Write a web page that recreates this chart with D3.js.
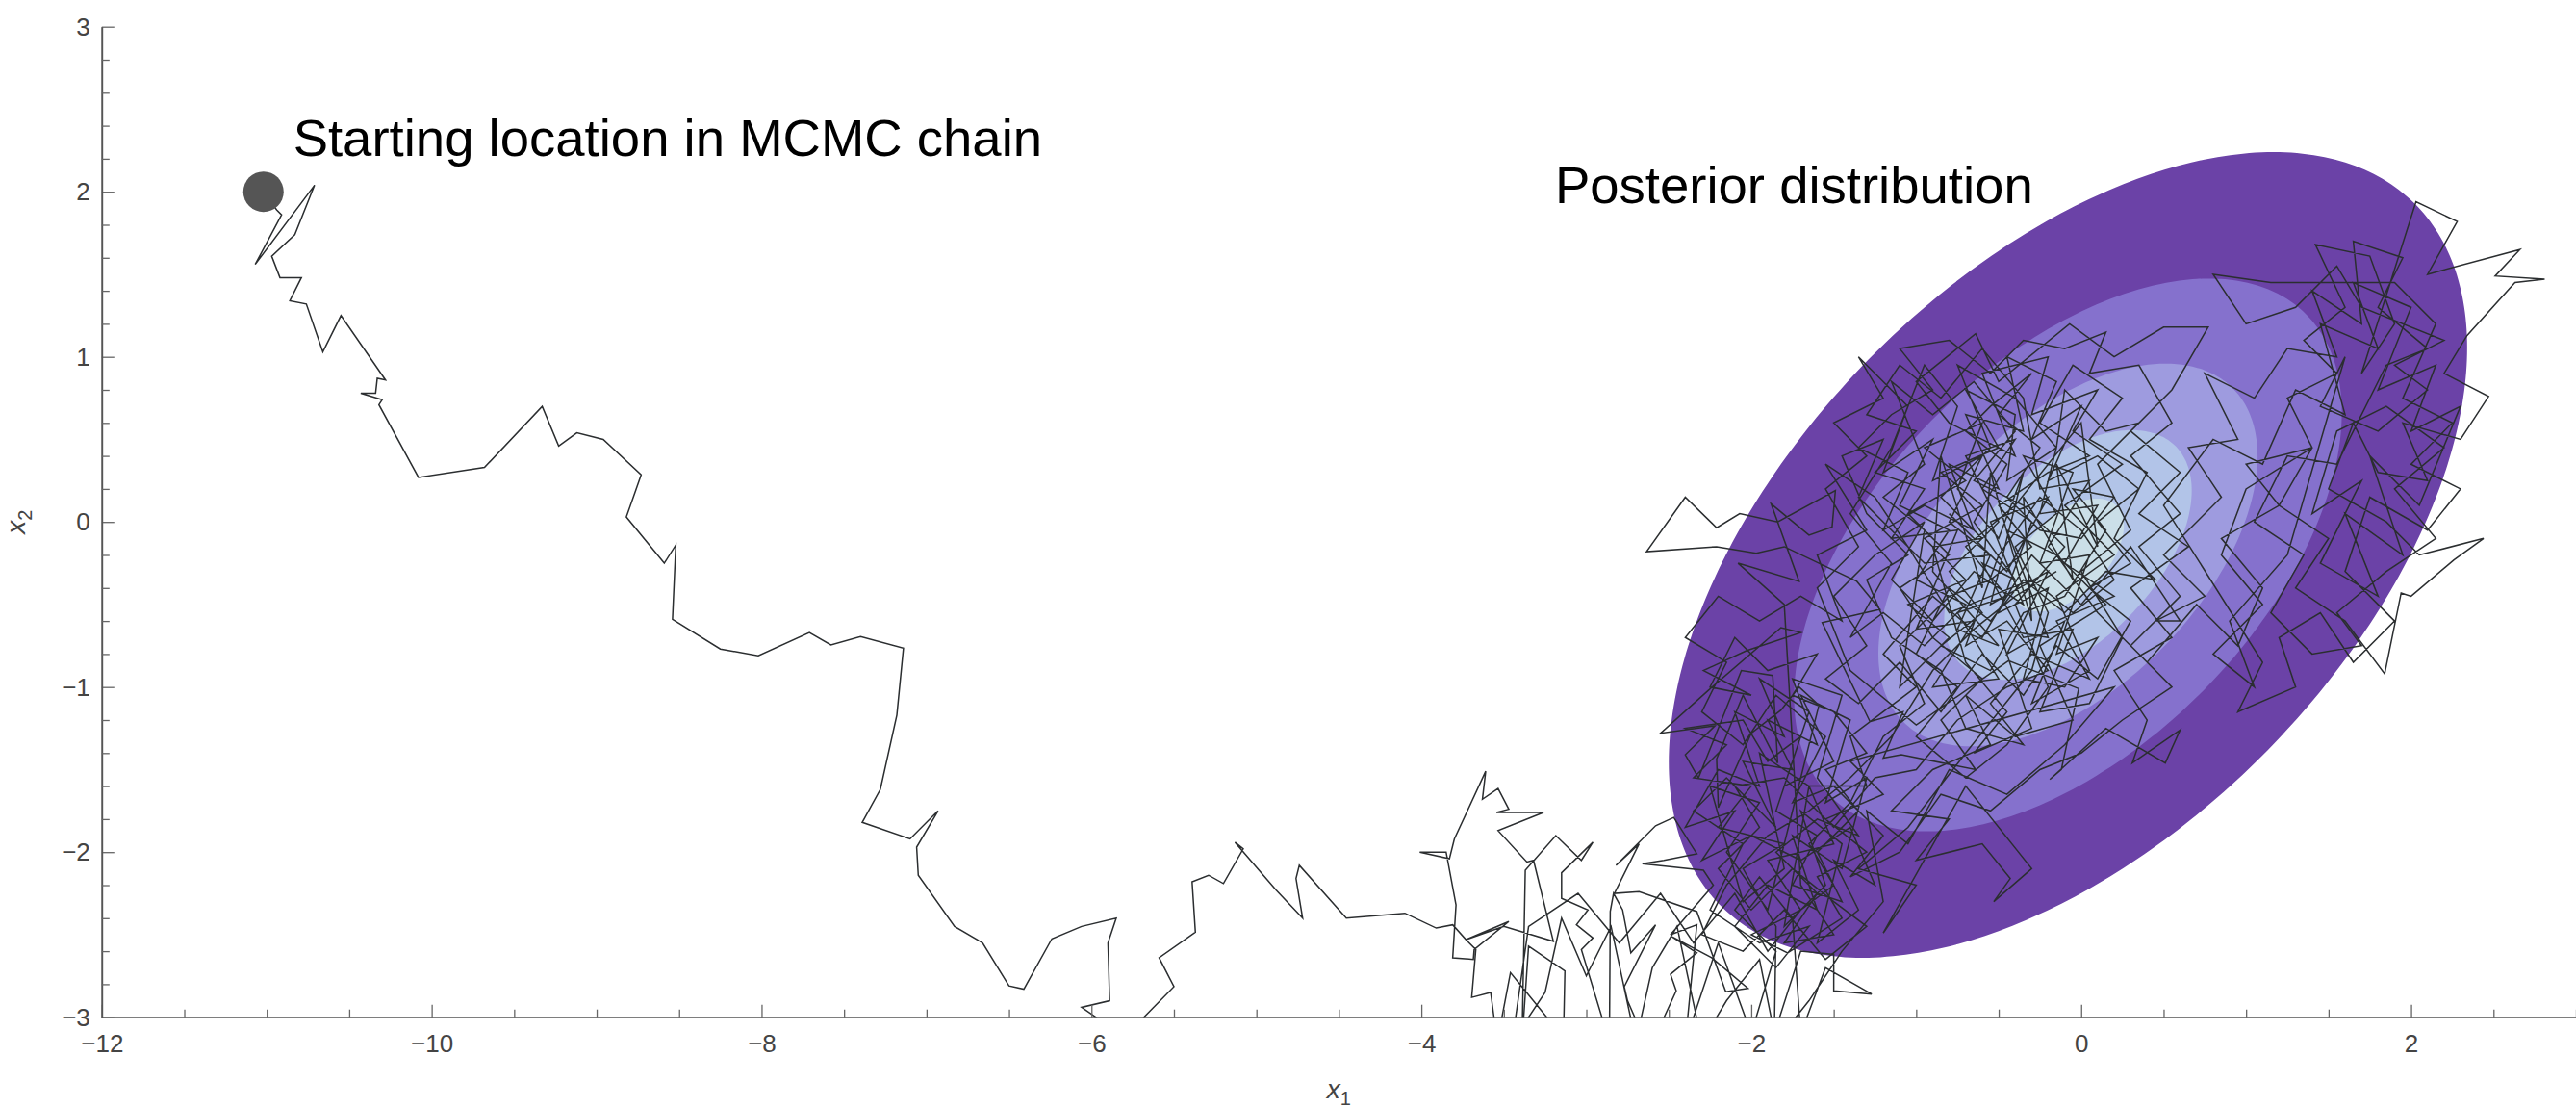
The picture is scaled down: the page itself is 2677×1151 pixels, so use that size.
<!DOCTYPE html>
<html><head><meta charset="utf-8">
<script src="https://cdn.jsdelivr.net/npm/d3@7"></script>
<style>html,body{margin:0;padding:0;background:#fff;} svg{display:block;}</style>
</head><body>
<svg id="chart" width="2677" height="1151"></svg>
<script>
// ---------- data ----------
const xDomain = [-12, 3];
const yDomain = [-3, 3];
const xTicksMajor = [-12, -10, -8, -6, -4, -2, 0, 2];
const xTicksMinor = [-11.5,-11,-10.5,-9.5,-9,-8.5,-7.5,-7,-6.5,-5.5,-5,-4.5,-3.5,-3,-2.5,-1.5,-1,-0.5,0.5,1,1.5,2.5,3];
const yTicksMajor = [-3, -2, -1, 0, 1, 2, 3];
const yTicksMinor = [-2.8,-2.6,-2.4,-2.2,-1.8,-1.6,-1.4,-1.2,-0.8,-0.6,-0.4,-0.2,0.2,0.4,0.6,0.8,1.2,1.4,1.6,1.8,2.2,2.4,2.6,2.8];

const posteriorCenter = [-0.08, -0.2];
const posteriorHalfExtent = [2.42, 2.44];
const posteriorCorr = 0.515;
const contourScales = [1, 0.686, 0.475, 0.31, 0.14];
const contourColors = ["#6b42a7", "#8571cd", "#9e9bdf", "#b2c4e8", "#cbdfe8"];

const startPoint = [-11.02, 2.0];
const annotations = [
  {text: "Starting location in MCMC chain", x: -10.84, y: 2.215},
  {text: "Posterior distribution", x: -3.19, y: 1.933}
];

const burnIn = [
[-11.02,2.00],[-10.94,1.89],[-10.91,1.86],[-11.07,1.56],[-10.71,2.04],[-10.83,1.74],[-10.97,1.61],[-10.92,1.48],[-10.79,1.48],[-10.86,1.34],[-10.76,1.32],[-10.66,1.03],[-10.55,1.25],[-10.28,0.86],[-10.33,0.87],[-10.34,0.78],[-10.43,0.78],[-10.30,0.74],[-10.32,0.71],[-10.08,0.27],[-9.68,0.33],[-9.33,0.70],[-9.23,0.46],[-9.12,0.54],[-8.96,0.50],[-8.73,0.285],[-8.82,0.03],[-8.59,-0.25],[-8.52,-0.14],[-8.54,-0.59],[-8.25,-0.77],[-8.02,-0.81],[-7.71,-0.67],[-7.58,-0.745],[-7.40,-0.695],[-7.14,-0.765],[-7.18,-1.17],[-7.28,-1.62],[-7.39,-1.82],[-7.10,-1.92],[-6.93,-1.75],[-7.06,-1.97],[-7.05,-2.14],[-6.83,-2.45],[-6.66,-2.55],[-6.50,-2.81],[-6.41,-2.83],[-6.24,-2.525],[-6.06,-2.45],[-5.85,-2.40],[-5.90,-2.55],[-5.89,-2.90],[-6.06,-2.94],[-5.80,-3.12],[-5.50,-2.815],[-5.59,-2.64],[-5.37,-2.485],[-5.39,-2.18],[-5.29,-2.14],[-5.20,-2.19],[-5.08,-1.98],[-5.13,-1.94],[-4.88,-2.23],[-4.72,-2.40],[-4.76,-2.16],[-4.74,-2.08],[-4.455,-2.40],[-4.10,-2.37],[-3.91,-2.46],[-3.81,-2.44],[-3.73,-2.53],[-3.47,-2.42]
];

const approach = [
[-3.68,-2.59],[-3.685,-2.65],[-3.81,-2.64],[-3.79,-2.32],[-3.85,-2.00],[-4.01,-2.00],[-3.83,-2.04],[-3.80,-1.92],[-3.61,-1.51],[-3.63,-1.68],[-3.535,-1.615],[-3.47,-1.74],[-3.545,-1.76],[-3.26,-1.76],[-3.535,-1.87],[-3.36,-2.06],[-3.32,-2.05],[-3.20,-2.54],[-3.50,-2.45],[-3.73,-2.53],[-3.67,-2.59],[-3.695,-2.88],[-3.58,-2.85],[-3.54,-3.15],[-3.46,-2.73],[-3.24,-3.0],[-3.14,-3.2],[-3.13,-2.72],[-3.35,-2.57],[-3.39,-3.15],[-3.37,-2.11],[-3.185,-1.90],[-3.03,-2.05],[-2.96,-1.94],[-3.15,-2.125],[-3.15,-2.28],[-2.99,-2.35],[-3.06,-2.44],[-2.96,-2.52],[-3.03,-2.59],[-2.86,-3.15],[-2.855,-2.36],[-2.835,-2.25],[-2.78,-2.35],[-2.73,-2.61],[-2.58,-2.44],[-2.77,-2.815],[-2.75,-2.90],[-2.62,-3.2],[-2.455,-2.84],[-2.49,-2.74],[-2.33,-2.61],[-2.485,-2.51],[-2.24,-2.64],[-2.02,-2.825],[-2.155,-2.845],[-2.33,-2.36],[-2.68,-2.24],[-2.83,-2.25],[-2.68,-1.95],[-2.82,-2.08],[-2.58,-1.84],[-2.47,-1.79],[-2.33,-2.01],[-2.53,-2.05],[-2.66,-2.07],[-2.29,-2.11],[-2.23,-2.20],[-2.49,-2.50],[-2.33,-2.44],[-2.40,-3.15],[-2.2,-2.55],[-2.0,-3.1],[-1.85,-2.6],[-2.1,-2.35],[-1.95,-2.15],[-1.75,-2.4],[-1.70,-3.1],[-1.55,-2.7],[-1.27,-2.86],[-1.5,-2.84],[-1.5,-2.62],[-1.7,-2.6],[-1.86,-3.1],[-1.85,-2.45]
];

const samplingA = [
[-2.05,-2.1],[-1.8,-1.95],[-2.2,-1.85],[-2.0,-1.6],[-2.35,-1.55],[-2.15,-1.35],[-2.4,-1.25],[-2.05,-1.2],[-1.9,-1.45],[-1.7,-1.3],[-1.85,-1.75],[-1.6,-1.9],[-1.75,-2.2],[-1.45,-2.3],[-1.6,-2.0],[-1.35,-1.75],[-1.55,-1.5],[-1.3,-1.4],[-1.5,-1.15],[-1.75,-1.05],[-1.6,-0.8],[-1.9,-0.9],[-2.1,-0.7],[-2.25,-1.0],[-2.0,-1.05],[-2.29,-0.9],[-2.03,-0.78],[-1.7,-0.67],[-1.82,-0.64],[-2.26,-1.02],[-2.55,-1.28],[-2.22,-1.235],[-2.40,-1.41],[-2.32,-1.55],[-2.06,-0.9],[-1.87,-0.93],[-1.84,-1.46],[-2.05,-1.05],[-2.21,-1.435],[-2.20,-1.73],[-2.0,-1.28],[-1.82,-1.14],[-1.71,-1.0],[-1.59,-1.11],
[-1.9,-2.35],[-2.15,-2.0],[-1.95,-1.7],[-2.25,-1.6],[-2.05,-2.3],[-1.8,-2.1],[-1.95,-1.4],[-1.65,-1.6],[-1.8,-2.45],[-1.55,-2.2],[-1.7,-1.75],[-1.45,-1.95],[-1.6,-2.55],[-1.35,-2.35],[-1.5,-2.05],[-1.25,-2.2],[-1.4,-1.85],[-1.7,-2.05],[-2.0,-1.9],[-2.3,-2.05],[-2.1,-1.75],[-2.4,-1.85],[-2.2,-1.5],[-1.95,-1.6],[-2.1,-1.15],[-1.8,-1.3],[-1.95,-0.95],[-1.65,-1.15],[-1.8,-1.6],[-1.5,-1.45],[-1.7,-1.05],[-1.4,-1.2],[-1.55,-1.7],[-1.3,-1.55],[-1.45,-2.1],[-1.75,-1.9],[-1.6,-2.35],[-1.9,-2.2],[-2.1,-2.45],[-1.85,-2.7],[-1.65,-2.45],[-1.95,-2.55],[-2.25,-2.35],[-2.05,-1.95],[-2.35,-1.75],[-2.15,-1.55],[-1.85,-1.85],[-2.05,-1.45],[-1.75,-1.5],[-1.9,-1.2],[-1.6,-1.35],[-1.75,-0.95],[-1.45,-1.05],[-1.6,-1.55],[-1.35,-1.9],[-1.6,-1.8],[-1.85,-2.0],[-1.6,-2.25],[-1.8,-2.55],[-1.5,-2.5],[-1.7,-2.2],
[-1.8,-0.5],[-2.08,-0.25],[-1.71,-0.36],[-1.88,0.11],[-1.65,-0.08],[-1.51,-0.03],[-1.49,0.19],[-1.84,0.0],[-2.07,0.05],[-2.21,-0.035],[-2.40,0.15],[-2.635,-0.18],[-2.21,-0.15],[-1.97,-0.19],[-1.80,-0.15],
[-1.36,-0.36],[-1.22,-0.53],[-1.57,-0.61],[-1.43,-0.9],[-1.28,-1.21],[-1.08,-1.15],[-1.2,-1.43],[-1.09,-1.41],[-0.64,-1.5],[-0.85,-1.2],[-0.6,-0.95],[-0.9,-0.7],[-1.1,-0.4],[-0.8,-0.2],[-1.05,0.05],[-0.7,0.25],[-0.95,0.45],[-0.6,0.6],[-0.75,0.2],[-0.5,-0.1],[-0.35,0.3],[-0.55,-0.5],[-0.2,-0.3],[-0.45,-0.8],[-0.1,-0.6],[-0.3,-1.1],[0.05,-0.9],[-0.15,-0.45],[0.2,-0.2],[-0.1,0.1],[0.25,0.35],[-0.05,0.55],[0.1,0.8],[-0.3,0.65],[-0.2,1.0],[-0.6,0.9],[-0.4,0.4],[-0.8,0.6],[-1.0,0.85],[-0.64,1.14],[-0.5,0.85],[-0.07,1.2],[0.2,1.0],[0.5,1.18],[0.77,1.18],[0.55,0.8],[0.3,0.55],[0.6,0.3],[0.35,0.05],[0.65,-0.15],[0.3,-0.4],[0.55,-0.7],[0.2,-0.9],[0.4,-1.2],[0.31,-1.46],[0.6,-1.26],[0.51,-1.46],[0.15,-1.25],[-0.19,-1.56],[-0.12,-1.5],[-0.015,-1.01],[-0.44,-0.84],[-1.0,-1.23]
];

const samplingB = [
[-1.4,-0.9],[-1.6,-0.4],[-1.35,-0.15],[-1.55,0.2],[-1.3,0.4],[-1.5,0.6],[-1.2,0.75],[-1.35,1.0],[-1.05,0.7],[-1.2,0.3],[-0.9,0.5],[-1.1,0.1],[-0.8,-0.05],[-1.0,-0.35],[-0.7,-0.5],[-0.95,-0.75],[-1.2,-0.55],[-1.4,-0.7],[-1.15,-0.25],[-1.4,0.05],[-1.15,0.45],[-0.95,0.95],[-0.75,0.7],[-0.9,0.25],[-0.6,0.4],[-0.8,0.0],[-0.55,-0.2],[-0.75,-0.65],[-0.5,-0.75],
[-0.9,-0.3],[-0.85,0.4],[-0.6,-0.4],[-0.55,0.3],[-0.3,-0.6],[-0.35,0.15],[-0.05,-0.35],[-0.15,0.35],[0.1,-0.15],[0.0,0.6],[-0.4,0.1],[-0.7,-0.15],[-0.45,-0.45],[-0.75,-0.55],[-0.5,-0.95],[-0.9,-1.0],[-0.65,-0.6],[-1.0,-0.65],[-0.75,-0.05],[-1.15,-0.1],[-0.95,0.2],[-1.25,0.3],[-1.0,0.55],[-1.3,0.65],[-1.1,0.95],[-0.85,0.75],[-0.6,1.05],[-0.35,0.75],[-0.25,0.2],[0.05,0.25],[-0.2,-0.15],[0.15,-0.5],[-0.25,-0.75],[-0.05,-1.2],[-0.4,-1.3],[-0.7,-1.05],[-0.55,-1.35],[-0.9,-1.5],[-1.15,-1.75],[-0.8,-1.8],[-1.0,-2.05],[-0.6,-1.95],[-0.43,-2.16],[-0.53,-2.3],[-0.3,-2.1],[-0.7,-1.6],[-1.2,-2.49],[-1.0,-2.2],[-1.35,-2.1],[-1.05,-1.85],[-0.7,-1.4],[-0.3,-0.9],
[-0.2,-0.55],[-0.4,-0.15],[-0.15,0.05],[-0.35,0.4],[-0.05,0.3],[-0.25,-0.25],[0.05,-0.2],[-0.15,-0.8],[0.1,-0.7],[-0.1,-1.0],[-0.35,-0.95],[-0.2,-0.4],[-0.5,-0.55],[-0.3,0.0],[-0.6,0.2],[-0.4,0.5],[-0.7,0.4],[-0.5,0.0],[-0.8,-0.3],[-0.6,-0.55],[-0.85,-0.75],[-0.55,-0.9],[-0.35,-0.55],[-0.1,-0.45],[0.15,-0.05],[-0.05,0.2],[0.2,0.15],[0.0,-0.1],[-0.25,-0.05],[-0.45,0.15],[-0.25,0.45],[-0.5,0.65],[-0.3,0.9],[-0.55,0.7],[-0.7,0.55],[-0.45,0.35],[-0.65,0.0],[-0.4,-0.35],[-0.6,-0.25],[-0.35,-0.7],[-0.05,-0.65],[-0.25,-1.15],[0.05,-1.1],[0.25,-0.7],[0.0,-0.3],[0.3,-0.05],[0.1,0.35],[0.35,0.6],[0.15,0.55],[-0.1,0.8],[-0.15,0.45],[-0.4,0.75],[-0.75,0.95],[-0.55,0.45],[-0.85,0.15],[-0.6,-0.1],[-0.9,-0.15],[-0.7,-0.85],[-0.45,-1.15],[-0.65,-1.4],[-0.3,-1.25],[-0.5,-0.65],[-0.2,-0.7],[-0.45,-0.05],[-0.15,-0.2]
];

const samplingC = [
[0.1,-0.55],[0.4,-0.85],[0.7,-0.5],[0.95,-0.75],[1.1,-0.4],[0.85,-0.1],[1.2,0.1],[1.0,0.35],[1.4,0.45],[1.25,0.75],[1.55,0.9],[1.35,1.1],[1.6,1.3],[1.42,1.68],[1.75,1.61],[1.9,1.2],[1.7,0.9],[2.03,1.94],[2.28,1.82],[2.1,1.5],[2.66,1.65],[2.51,1.49],[2.81,1.47],[2.63,1.45],[2.34,1.13],[2.2,0.9],[2.47,0.76],[2.3,0.5],[1.95,0.6],[2.1,0.25],[1.8,0.3],[1.65,0.6],[1.5,0.2],[1.85,0.0],[2.05,-0.2],[2.44,-0.1],[2.26,-0.23],[2.0,-0.45],[1.94,-0.43],[1.84,-0.92],[1.6,-0.6],[1.3,-0.4],[1.5,-0.1],[1.2,0.1],[1.4,0.45],[1.0,0.2],[0.85,-0.2],[1.1,-0.5],[0.8,-0.8],[1.05,-1.0],[0.9,-0.6],[1.25,-0.2],
[1.6,1.0],[1.45,0.7],[1.8,0.55],[2.1,0.8],[1.9,0.95],[2.2,1.1],[1.7,1.3],[1.55,1.55],[1.3,1.3],[1.0,1.2],[0.8,1.5],[1.15,1.45],[1.9,1.45],[2.15,1.2],[1.95,0.75],[2.25,0.6],[2.0,0.35],[2.3,0.2],[2.1,-0.05],[1.75,0.15],[1.6,-0.3],[1.9,-0.6],[1.65,-0.85],[1.45,-0.55],[1.2,-0.7],[1.3,-1.0],[0.95,-1.15],[1.1,-0.85],
[0.5,0.1],[0.8,0.5],[1.1,0.35],[1.3,0.8],[1.6,0.65],[1.45,1.2],[1.8,1.05],[1.65,1.45],[2.0,1.3],[1.8,0.8],[2.15,0.95],[2.0,0.55],[2.3,0.7],[2.05,0.1],[1.75,0.4],[1.95,-0.2],[1.6,0.05],[1.8,-0.45],[1.45,-0.25],[1.7,0.25],[1.4,0.05],[1.55,0.55],[1.85,0.7],[2.2,0.45],[1.9,0.2],[2.15,-0.1],[1.85,-0.3],[1.55,-0.55],[1.7,-0.75],[1.4,-0.8],[1.15,-0.55],[1.35,-0.2],[1.05,0.0],[1.25,0.4],[1.55,0.35],[1.85,0.95],[2.1,1.05],[1.8,1.3],[1.95,1.6],[1.65,1.7],[1.7,1.2],[1.4,1.4],[1.55,1.0],[1.25,1.05],[1.05,0.75],[0.75,0.9],[0.95,0.5],[0.65,0.45],[0.85,0.15],[0.5,-0.2],[0.75,-0.45],[0.45,-0.6]
];

const samplingD = [
[0.6,-0.6],[0.3,-0.15],[0.0,-0.5],[-0.3,-0.2],[-0.6,-0.7],[-0.9,-0.45],[-1.2,-0.8],[-1.0,-1.0],[-1.4,-1.3],[-1.3,-1.6],[-1.65,-1.6],[-1.5,-1.95],[-1.9,-2.05],[-1.7,-2.35],[-2.0,-2.5],[-1.78,-2.61],[-1.45,-2.4],[-1.6,-2.15],[-1.3,-2.0],[-1.55,-1.8],[-1.2,-1.65],[-1.4,-1.45],
[0.2,-1.0],[-0.1,-1.35],[-0.45,-1.65],[-0.8,-1.5],[-1.05,-1.95],[-1.3,-1.75],[-1.2,-2.3],[-1.45,-2.6],[-1.65,-2.9],[-1.85,-3.15],[-1.95,-2.65],[-2.15,-2.9],[-2.3,-3.15],[-2.45,-2.45],[-2.6,-2.7],[-2.7,-3.15],[-2.85,-2.45],[-3.0,-2.75],[-3.15,-2.4],[-3.25,-2.85],[-3.45,-3.15],[-3.35,-2.45],[-3.05,-2.25],[-2.8,-2.55],[-2.55,-2.25],[-2.35,-2.55],[-2.1,-2.25],[-1.9,-2.6],[-1.7,-2.35],[-1.5,-2.2],[-1.65,-1.95],[-1.4,-1.7],
[-1.2,-1.3],[-0.95,-1.1],[-1.1,-0.75],[-0.8,-0.45],[-0.55,-0.35],[-0.3,-0.15],[-0.5,0.1],[-0.2,0.3],
[0.05,0.4],[-0.25,0.6],[-0.05,0.95],[0.25,0.75],[0.05,0.5],[0.4,0.3],[0.2,-0.1],[0.45,-0.35],[0.15,-0.3],[-0.1,-0.55],[-0.35,-0.35],[-0.55,-0.6],[-0.8,-0.4],[-1.0,-0.8],[-0.75,-1.0],[-1.0,-1.3],[-0.7,-1.55],[-0.45,-1.35],[-0.2,-1.0],[-0.4,-0.5],[-0.1,-0.15],[-0.35,0.1],[-0.65,0.25],[-0.4,0.55],[-0.65,0.85],[-0.9,0.65],[-1.15,0.85],[-0.95,0.35],[-1.2,0.15],[-0.95,-0.05],
[-1.1,-1.0],[-0.8,-0.7],[-1.05,-0.5],[-0.7,-0.35],[-0.95,-0.1],[-0.6,0.1],[-0.85,0.3],[-0.5,0.45],[-0.7,0.8],[-0.4,0.65],[-0.45,0.25],[-0.15,0.45],[-0.25,0.05],[0.1,0.1],[-0.1,-0.25],[0.2,-0.45],[-0.15,-0.6],[0.05,-0.95],[-0.3,-0.8],[-0.55,-1.1],[-0.35,-1.35],[-0.7,-1.25],[-0.85,-0.9],[-1.15,-0.7],[-1.3,-0.35],[-1.05,-0.2],[-1.3,0.05],[-1.45,0.4],[-1.2,0.5],[-1.35,0.15],[-0.95,-0.25],[-0.55,-0.2],[-0.8,0.05],[-0.45,-0.3],[-0.2,0.15],[-0.55,0.0],[-0.35,-0.5],[-0.65,-0.3]
];

const samplingE = [
[-0.9,-0.6],[-1.15,-0.35],[-0.95,0.0],[-1.25,-0.2],[-1.5,-0.45],[-1.3,-0.75],[-1.55,-0.95],[-1.35,-1.1],[-1.1,-0.85],[-0.85,-1.15],[-0.6,-0.8],[-0.35,-1.05],[-0.15,-0.75],[0.1,-0.95],[0.3,-0.6],[0.05,-0.4],[0.3,-0.25],[0.1,0.0],[0.35,0.2],[0.1,0.4],[-0.2,0.25],[0.0,0.7],[-0.3,0.5],[-0.15,0.85],[-0.45,1.0],[-0.35,0.55],[-0.7,0.65],[-0.5,0.2],[-0.8,0.35],[-0.65,-0.05],[-0.95,0.1],[-1.2,-0.05],[-1.05,0.3],[-1.35,0.45],[-1.15,0.65],[-0.9,0.8],[-1.1,1.05],[-0.8,1.1],[-0.55,0.9],[-0.35,1.1],[-0.1,1.05],[0.15,1.15],[0.05,0.9],[0.35,0.95],[0.55,0.6],[0.3,0.4],[0.6,0.05],[0.35,-0.15],[0.6,-0.45],[0.3,-0.75],[0.55,-1.0],[0.25,-1.2],[0.0,-1.4],[-0.25,-1.5],[-0.55,-1.75],[-0.85,-1.65],[-1.1,-2.0],[-1.4,-2.15],[-1.2,-1.9],[-1.5,-1.6],[-1.75,-1.7],[-1.55,-1.3],[-1.85,-1.05],[-2.05,-1.35],[-2.3,-1.15],[-2.15,-0.85],[-2.4,-0.7],[-2.2,-0.45],[-1.95,-0.6],[-1.7,-0.45],[-1.45,-0.6],[-1.6,-0.2],[-1.3,-0.05],[-1.55,0.35],[-1.25,0.15],[-1.05,-0.15],[-0.8,-0.55],[-0.55,-0.45],[-0.3,-0.35],[-0.05,-0.55],[0.2,-0.35],[0.0,-0.05],[-0.25,0.15],[-0.5,-0.2],[-0.7,-0.75],[-0.45,-0.6],[-0.2,-0.9],[-0.45,-1.0],[-0.75,-1.2],[-1.0,-1.5],[-1.25,-1.55],[-1.5,-1.85],[-1.8,-1.55],[-2.1,-1.6],[-1.95,-1.85],[-2.2,-2.1],[-2.0,-2.35],[-1.75,-2.1],[-1.5,-2.3],[-1.3,-2.45],[-1.55,-2.65],[-1.8,-2.35],[-2.05,-2.6],[-2.3,-2.5],[-2.15,-2.2],[-1.9,-1.9],[-1.65,-1.75],[-1.4,-1.55],[-1.15,-1.3],[-0.9,-0.9],[-0.65,-0.65],[-0.4,-0.45],[-0.15,-0.3]
];

const chain = burnIn.concat(approach, samplingA, samplingB, samplingC, samplingD, samplingE);

// ---------- drawing ----------
const plotL = 105.8, plotR = 2677, plotT = 27.7, plotB = 1056.7;
const svg = d3.select("#chart");
const x = d3.scaleLinear().domain(xDomain).range([plotL, plotR]);
const y = d3.scaleLinear().domain(yDomain).range([plotB, plotT]);

svg.append("defs").append("clipPath").attr("id", "plotClip")
  .append("rect").attr("x", plotL).attr("y", plotT).attr("width", plotR - plotL).attr("height", plotB - plotT);

// posterior contours
const angles = d3.range(0, 360, 2).map(a => a * Math.PI / 180);
const sq = Math.sqrt(1 - posteriorCorr * posteriorCorr);
const ellipseLine = d3.line().x(d => x(d[0])).y(d => y(d[1])).curve(d3.curveCardinalClosed);
const gPost = svg.append("g").attr("clip-path", "url(#plotClip)");
contourScales.forEach((k, i) => {
  const pts = angles.map(t => [
    posteriorCenter[0] + k * posteriorHalfExtent[0] * Math.cos(t),
    posteriorCenter[1] + k * posteriorHalfExtent[1] * (posteriorCorr * Math.cos(t) + sq * Math.sin(t))
  ]);
  gPost.append("path").attr("d", ellipseLine(pts)).attr("fill", contourColors[i]).attr("stroke", "none");
});

// chain
const chainLine = d3.line().x(d => x(d[0])).y(d => y(d[1]));
svg.append("g").attr("clip-path", "url(#plotClip)")
  .append("path").attr("d", chainLine(chain))
  .attr("fill", "none").attr("stroke", "#2b2e30").attr("stroke-width", 1.5)
  .attr("stroke-linejoin", "miter").attr("stroke-miterlimit", 4);

// start point
svg.append("circle").attr("cx", x(startPoint[0])).attr("cy", y(startPoint[1]))
  .attr("r", 21).attr("fill", "#555555");

// axes
const font = "'Liberation Sans', Helvetica, Arial, sans-serif";
const fmt = d3.format("d");
const gx = svg.append("g").attr("transform", `translate(0,${plotB})`)
  .call(d3.axisBottom(x).tickValues(xTicksMajor).tickFormat(fmt).tickSize(-13).tickSizeOuter(0).tickPadding(18));
const gxm = svg.append("g").attr("transform", `translate(0,${plotB})`)
  .call(d3.axisBottom(x).tickValues(xTicksMinor).tickFormat("").tickSize(-8).tickSizeOuter(0));
const gy = svg.append("g").attr("transform", `translate(${plotL},0)`)
  .call(d3.axisLeft(y).tickValues(yTicksMajor).tickFormat(fmt).tickSize(-13).tickSizeOuter(0).tickPadding(12));
const gym = svg.append("g").attr("transform", `translate(${plotL},0)`)
  .call(d3.axisLeft(y).tickValues(yTicksMinor).tickFormat("").tickSize(-8).tickSizeOuter(0));
[gx, gxm, gy, gym].forEach(g => {
  g.selectAll("path.domain").attr("stroke", "#555").attr("stroke-width", 1.6);
  g.selectAll(".tick line").attr("stroke", "#666").attr("stroke-width", 1.3);
  g.selectAll(".tick text").attr("fill", "#444").style("font-family", font).style("font-size", "26px");
});
gy.selectAll(".tick text").attr("dy", "0.32em");

// axis titles
const xt = svg.append("text").attr("x", (plotL + plotR) / 2).attr("y", 1141)
  .attr("text-anchor", "middle").style("font-family", font).style("font-size", "28px").attr("fill", "#444");
xt.append("tspan").style("font-style", "italic").text("x");
xt.append("tspan").attr("dy", 7).style("font-size", "20px").text("1");

const yt = svg.append("text").attr("transform", `translate(26,${(plotT + plotB) / 2}) rotate(-90)`)
  .attr("text-anchor", "middle").style("font-family", font).style("font-size", "28px").attr("fill", "#444");
yt.append("tspan").style("font-style", "italic").text("x");
yt.append("tspan").attr("dy", 7).style("font-size", "20px").text("2");

// annotations
svg.selectAll("text.anno").data(annotations).enter().append("text")
  .attr("class", "anno")
  .attr("x", d => x(d.x)).attr("y", d => y(d.y))
  .style("font-family", font).style("font-size", "54.5px").attr("fill", "#000")
  .text(d => d.text);
</script>
</body></html>
